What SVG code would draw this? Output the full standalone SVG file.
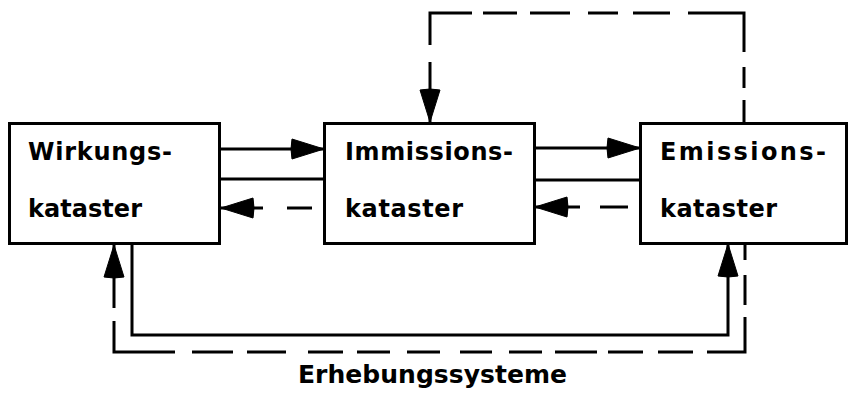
<svg xmlns="http://www.w3.org/2000/svg" width="850" height="397" viewBox="0 0 850 397">
  <defs>
    <style>
      .box { fill: #fff; stroke: #000; stroke-width: 3; }
      .lbl { font-family: "DejaVu Sans", "Liberation Sans", sans-serif; font-weight: bold; font-size: 24px; fill: #000; }
      .cap { font-size: 25px; }
      .ln { fill: none; stroke: #000; stroke-width: 3; stroke-linecap: butt; stroke-linejoin: miter; }
      .arr { marker-end: url(#head); }
    </style>
    <marker id="head" viewBox="0 0 34 22" refX="34" refY="11" markerWidth="34" markerHeight="22" markerUnits="userSpaceOnUse" orient="auto">
      <path d="M2,1 L34,11 L2,21 Q0,11 2,1 Z" fill="#000" stroke="#000" stroke-width="1" stroke-linejoin="round"/>
    </marker>
  </defs>
  <rect width="850" height="397" fill="#fff"/>

  <g id="connectors">
    <!-- solid arrows to the right -->
    <path class="ln arr" d="M220,149 L324,149"/>
    <path class="ln arr" d="M534,148 L640,148"/>
    <!-- plain solid lines -->
    <path class="ln" d="M220,179 L324,179"/>
    <path class="ln" d="M534,180 L640,180"/>
    <!-- dashed arrows to the left -->
    <path class="ln" d="M312,208 L287,208"/>
    <path class="ln arr" d="M263,208 L221,208"/>
    <path class="ln" d="M628,207 L600,207"/>
    <path class="ln arr" d="M580,207 L535,207"/>
    <!-- top dashed loop Emissions -> Immissions -->
    <path class="ln" d="M744,122 L744,100"/>
    <path class="ln" d="M744,88 L744,67"/>
    <path class="ln" d="M744,52 L744,13 L688,13"/>
    <path class="ln" d="M670,13 L633,13"/>
    <path class="ln" d="M618,13 L588,13"/>
    <path class="ln" d="M570,13 L530,13"/>
    <path class="ln" d="M517,13 L483,13"/>
    <path class="ln" d="M472,13 L430,13 L430,45"/>
    <path class="ln arr" d="M430,62 L430,122"/>
    <!-- bottom solid Wirkungs -> Emissions -->
    <path class="ln arr" d="M132,244 L132,335 L728,335 L728,244"/>
    <!-- bottom dashed Emissions -> Wirkungs -->
    <path class="ln" d="M745,245 L745,260"/>
    <path class="ln" d="M745,275 L745,305"/>
    <path class="ln" d="M745,317 L745,352 L707,352"/>
    <path class="ln" d="M693,352 L658,352"/>
    <path class="ln" d="M643,352 L608,352"/>
    <path class="ln" d="M597,352 L555,352"/>
    <path class="ln" d="M542,352 L509,352"/>
    <path class="ln" d="M492,352 L460,352"/>
    <path class="ln" d="M440,352 L407,352"/>
    <path class="ln" d="M390,352 L357,352"/>
    <path class="ln" d="M343,352 L308,352"/>
    <path class="ln" d="M286,352 L247,352"/>
    <path class="ln" d="M233,352 L192,352"/>
    <path class="ln" d="M175,352 L114,352 L114,321"/>
    <path class="ln arr" d="M114,308 L114,245"/>
  </g>

  <g id="wirkungskataster">
    <rect class="box" x="9.5" y="123.5" width="210" height="120"/>
    <text class="lbl" x="28" y="160" textLength="144" lengthAdjust="spacing">Wirkungs-</text>
    <text class="lbl" x="28" y="217" textLength="114" lengthAdjust="spacing">kataster</text>
  </g>

  <g id="immissionskataster">
    <rect class="box" x="324.5" y="123.5" width="210" height="120"/>
    <text class="lbl" x="345" y="160" textLength="168" lengthAdjust="spacing">Immissions-</text>
    <text class="lbl" x="345" y="217" textLength="118" lengthAdjust="spacing">kataster</text>
  </g>

  <g id="emissionskataster">
    <rect class="box" x="640.5" y="123.5" width="206" height="120"/>
    <text class="lbl" x="660" y="160" textLength="166" lengthAdjust="spacing">Emissions-</text>
    <text class="lbl" x="660" y="217" textLength="117" lengthAdjust="spacing">kataster</text>
  </g>

  <g id="erhebungssysteme">
    <text class="lbl cap" x="298" y="383" textLength="269" lengthAdjust="spacing">Erhebungssysteme</text>
  </g>
</svg>
